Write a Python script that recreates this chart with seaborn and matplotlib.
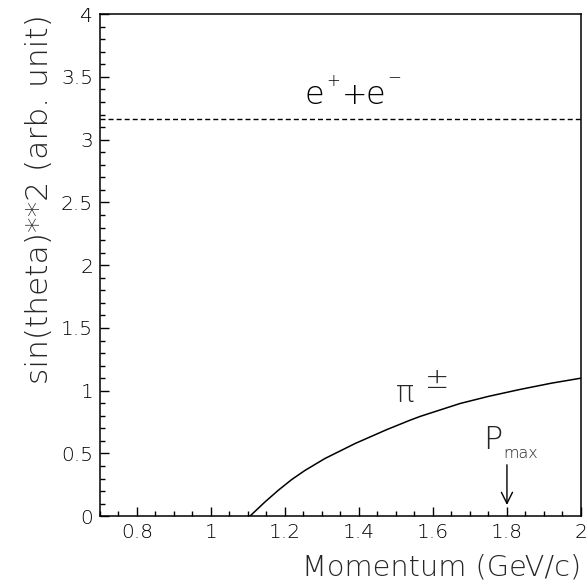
import numpy as np
import pandas as pd
import seaborn as sns
import matplotlib
matplotlib.use("Agg")
import matplotlib.pyplot as plt
from matplotlib.ticker import MultipleLocator

# Data
momentum = [1.105, 1.146, 1.182, 1.218, 1.254, 1.308, 1.39, 1.475, 1.538, 1.565, 1.673, 1.75, 1.835, 1.92, 2.0]
sin2_pion = [0.0, 0.114, 0.207, 0.292, 0.365, 0.46, 0.58, 0.69, 0.765, 0.795, 0.898, 0.955, 1.01, 1.06, 1.10]
electron_level = 3.163
electron_x = [0.7, 2.0]
p_max = 1.8

x_limits = (0.7, 2.0)
y_limits = (0.0, 4.0)

sns.set_style("ticks")
plt.rcParams['font.family'] = ['DejaVu Sans']

fig = plt.figure(figsize=(5.88, 5.88), dpi=100)
ax = fig.add_axes([0.170, 0.122, 0.818, 0.854])

df_pi = pd.DataFrame({"p": momentum, "s": sin2_pion})
df_e = pd.DataFrame({"p": electron_x, "s": [electron_level] * len(electron_x)})

sns.lineplot(data=df_pi, x="p", y="s", ax=ax, color="black", lw=1.1)
sns.lineplot(data=df_e, x="p", y="s", ax=ax, color="black", lw=1.0,
             linestyle=(0, (3.6, 2.2)))

ax.set_xlim(*x_limits)
ax.set_ylim(*y_limits)

ax.xaxis.set_major_locator(MultipleLocator(0.2))
ax.xaxis.set_minor_locator(MultipleLocator(0.05))
ax.yaxis.set_major_locator(MultipleLocator(0.5))
ax.yaxis.set_minor_locator(MultipleLocator(0.1))

def fmt(v, pos):
    s = f"{v:.1f}"
    if s.endswith(".0"):
        s = s[:-2]
    return s
ax.xaxis.set_major_formatter(plt.FuncFormatter(fmt))
ax.yaxis.set_major_formatter(plt.FuncFormatter(fmt))

ax.tick_params(which="both", direction="in", top=False, right=False,
               colors="black", width=1.0)
ax.tick_params(which="major", length=6.5, labelsize=14.5, pad=5)
ax.tick_params(which="minor", length=3.8)
for lab in ax.get_xticklabels() + ax.get_yticklabels():
    lab.set_fontweight("light")
for sp in ax.spines.values():
    sp.set_linewidth(1.1)
    sp.set_color("black")
    sp.set_visible(True)

ax.set_xlabel("Momentum (GeV/c)", fontsize=20.8, loc="right", labelpad=8,
              fontweight="light")
ax.set_ylabel("sin(theta)**2 (arb. unit)", fontsize=22.5, loc="top", labelpad=5,
              fontweight="light")

# annotations
lt = dict(ha="left", va="baseline", fontweight="light", color="black")
ax.text(1.253, 3.285, "e", fontsize=23, **lt)
ax.text(1.313, 3.43, "+", fontsize=12, **lt)
ax.text(1.353, 3.285, "+", fontsize=22, **lt)
ax.text(1.418, 3.285, "e", fontsize=23, **lt)
ax.text(1.476, 3.45, "−", fontsize=12, **lt)

ax.text(1.50, 0.86, "π", fontsize=22, ha="left", va="bottom", fontweight="light")
ax.text(1.578, 0.97, "±", fontsize=21, ha="left", va="bottom", fontweight="light")
ax.text(1.735, 0.49, "P", fontsize=23, ha="left", va="bottom", fontweight="light")
ax.text(1.79, 0.44, "max", fontsize=11.5, ha="left", va="bottom", fontweight="light")
ax.annotate("", xy=(p_max, 0.09), xytext=(p_max, 0.41),
            arrowprops=dict(arrowstyle="->", color="black", lw=1.0,
                            mutation_scale=20, shrinkA=0, shrinkB=0))

fig.savefig("out.png", dpi=100)
